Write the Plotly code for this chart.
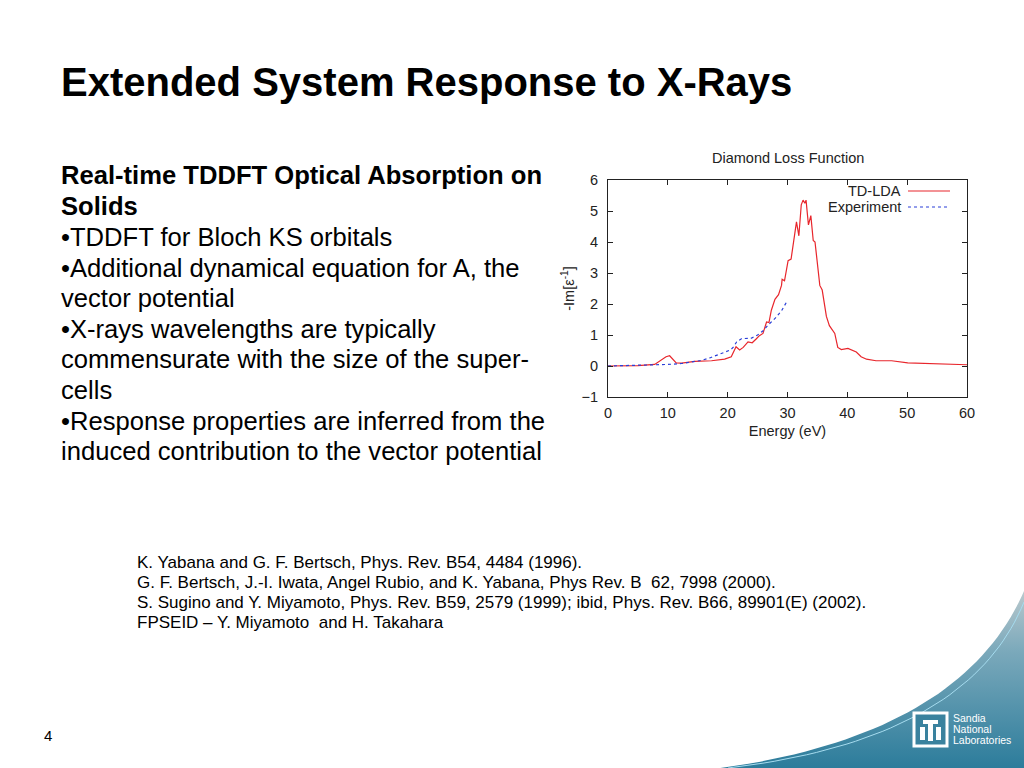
import plotly.graph_objects as go

# TD-LDA loss function
lda_e = [0, 5, 7.8, 8.9, 9.7, 10.3, 10.9, 11.4, 12.3, 14.5, 17.3, 19.5, 20.6, 21.2, 21.4, 22.0,
         22.6, 23.4, 24.1, 24.8, 25.3, 25.9, 26.5, 26.9, 27.3, 27.9, 28.5, 29.0, 29.1, 29.5,
         30.1, 30.6, 31.5, 31.9, 32.3, 32.6, 32.9, 33.1, 33.5, 33.9, 34.3, 34.6, 35.4, 35.8,
         36.5, 37.0, 37.9, 38.4, 39.0, 40.1, 41.5, 42.3, 43.2, 44.8, 47.4, 50.1, 55.2, 60]
lda_y = [0, 0.01, 0.05, 0.18, 0.30, 0.33, 0.22, 0.10, 0.09, 0.15, 0.17, 0.22, 0.30, 0.55, 0.62, 0.52,
         0.60, 0.78, 0.75, 0.88, 0.98, 1.05, 1.42, 1.40, 1.80, 2.15, 2.30, 2.60, 2.80, 2.75,
         3.40, 3.45, 4.65, 4.20, 5.20, 5.35, 5.25, 5.35, 4.55, 4.85, 4.05, 4.00, 2.60, 2.45,
         1.60, 1.30, 1.05, 0.60, 0.53, 0.57, 0.45, 0.30, 0.22, 0.17, 0.17, 0.10, 0.07, 0.04]

# experiment
exp_e = [0, 5, 8, 10, 12.3, 14, 15.6, 17, 18.9, 20, 20.5, 21, 21.5, 22.3, 23, 24, 25, 26, 26.7, 28, 29, 29.8]
exp_y = [0, 0.02, 0.04, 0.05, 0.08, 0.14, 0.18, 0.26, 0.40, 0.47, 0.52, 0.62, 0.78, 0.88, 0.88, 0.90,
         1.00, 1.15, 1.31, 1.55, 1.78, 2.05]

title = "Extended System Response to X-Rays"
heading = ["Real-time TDDFT Optical Absorption on", "Solids"]
bullets = ["•TDDFT for Bloch KS orbitals",
           "•Additional dynamical equation for A, the",
           "vector potential",
           "•X-rays wavelengths are typically",
           "commensurate with the size of the super-",
           "cells",
           "•Response properties are inferred from the",
           "induced contribution to the vector potential"]
refs = ["K. Yabana and G. F. Bertsch, Phys. Rev. B54, 4484 (1996).",
        "G. F. Bertsch, J.-I. Iwata, Angel Rubio, and K. Yabana, Phys Rev. B  62, 7998 (2000).",
        "S. Sugino and Y. Miyamoto, Phys. Rev. B59, 2579 (1999); ibid, Phys. Rev. B66, 89901(E) (2002).",
        "FPSEID – Y. Miyamoto  and H. Takahara"]
logo_lines = ['Sandia', 'National', 'Laboratories']

W, H = 1024, 768
def px(x, y):
    return x / W, 1 - y / H

SANS = 'Liberation Sans, Arial'
RED, BLUE = '#e8262c', '#2a3fd8'

fig = go.Figure()

# teal swoosh (page decoration), drawn on a hidden full-page axis pair
P0, P1, P2 = (712, 768), (962, 736), (1024, 588)
def bez(p0, p1, p2, n=40):
    xs, ys = [], []
    for i in range(n + 1):
        t = i / n
        xs.append((1 - t) ** 2 * p0[0] + 2 * t * (1 - t) * p1[0] + t * t * p2[0])
        ys.append((1 - t) ** 2 * p0[1] + 2 * t * (1 - t) * p1[1] + t * t * p2[1])
    return xs, ys
sx, sy = bez(P0, P1, P2)
fig.add_trace(go.Scatter(x=sx + [1024, P0[0]], y=sy + [768, 768], xaxis='x2', yaxis='y2',
                         mode='lines', fill='toself', line=dict(width=0), hoverinfo='skip',
                         fillgradient=dict(type='vertical', start=588, stop=768,
                                           colorscale=[[0, '#bccace'], [0.35, '#7ba9bb'],
                                                       [1, '#2c7c9b']])))
fig.add_trace(go.Scatter(x=sx, y=sy, xaxis='x2', yaxis='y2', mode='lines', hoverinfo='skip',
                         line=dict(color='white', width=2.5)))
sx2, sy2 = bez((728, 768), (968, 740), (1024, 602))
fig.add_trace(go.Scatter(x=sx2, y=sy2, xaxis='x2', yaxis='y2', mode='lines', hoverinfo='skip',
                         line=dict(color='#a6dcef', width=1)))

fig.add_trace(go.Scatter(x=lda_e, y=lda_y, mode='lines', name='TD-LDA',
                         line=dict(color=RED, width=1.2)))
fig.add_trace(go.Scatter(x=exp_e, y=exp_y, mode='lines', name='Experiment',
                         line=dict(color=BLUE, width=1.2, dash='dot')))

x0, y0 = px(608, 397)
x1, y1 = px(967, 180)
axis_font = dict(family=SANS, size=14.5, color='#222')
fig.update_layout(
    xaxis=dict(domain=[x0, x1], range=[0, 60], dtick=10, showgrid=False, zeroline=False,
               showline=True, linecolor='#222', linewidth=1, mirror='allticks',
               ticks='inside', ticklen=5, tickcolor='#222', tickfont=axis_font,
               ticklabelstandoff=3, automargin=False,
               title=dict(text='Energy (eV)', font=axis_font, standoff=5)),
    yaxis=dict(domain=[y0, y1], range=[-1, 6], dtick=1, showgrid=False, zeroline=False,
               showline=True, linecolor='#222', linewidth=1, mirror='allticks',
               ticks='inside', ticklen=5, tickcolor='#222', tickfont=axis_font,
               ticklabelstandoff=6, automargin=False,
               title=dict(text='-Im[ε<sup>-1</sup>]', font=axis_font, standoff=3)),
    xaxis2=dict(domain=[0, 1], range=[0, W], visible=False, anchor='y2', fixedrange=True),
    yaxis2=dict(domain=[0, 1], range=[H, 0], visible=False, anchor='x2', fixedrange=True),
)

ann = []
def text(x, y, s, size, bold=False, color='black', family=SANS, anchor='left'):
    ax, ay = px(x, y)
    ann.append(dict(x=ax, y=ay, xref='paper', yref='paper', xanchor=anchor, yanchor='middle',
                    text='<b>%s</b>' % s if bold else s, showarrow=False, borderpad=0,
                    font=dict(family=family, size=size, color=color)))

text(60, 82, title, 40, bold=True)
for i, s in enumerate(heading):
    text(60, 175 + 30.6 * i, s, 25.6, bold=True)
for i, s in enumerate(bullets):
    text(60, 237 + 30.6 * i, s, 25.6)
for i, s in enumerate(refs):
    text(136, 562 + 20.3 * i, s, 17)
text(43, 735, '4', 15)

# chart title and legend (gnuplot style: key text left of the sample)
text(788, 158, 'Diamond Loss Function', 14.5, color='#222', anchor='center')
text(902, 191, 'TD-LDA', 14.5, color='#222', anchor='right')
text(902, 207, 'Experiment', 14.5, color='#222', anchor='right')

shapes = []
lx0, ly = px(908, 191)
lx1, _ = px(950, 191)
shapes.append(dict(type='line', xref='paper', yref='paper', x0=lx0, x1=lx1, y0=ly, y1=ly,
                   line=dict(color=RED, width=1.2)))
_, ly = px(908, 207)
shapes.append(dict(type='line', xref='paper', yref='paper', x0=lx0, x1=lx1, y0=ly, y1=ly,
                   line=dict(color=BLUE, width=1.2, dash='dot')))

# Sandia logo
bx0, by0 = px(914, 713)
bx1, by1 = px(947, 746)
shapes.append(dict(type='rect', xref='paper', yref='paper', layer='above',
                   x0=bx0, x1=bx1, y0=by1, y1=by0, fillcolor='#3a829e',
                   line=dict(color='white', width=3)))
for r in [(923, 720, 938, 724), (928, 724, 933, 741), (920, 727, 925, 740), (936, 727, 941, 740)]:
    a, b = px(r[0], r[1])
    c, d = px(r[2], r[3])
    shapes.append(dict(type='rect', xref='paper', yref='paper', layer='above',
                       x0=a, x1=c, y0=d, y1=b, fillcolor='white', line=dict(width=0)))
for i, s in enumerate(logo_lines):
    text(952, 718 + 11 * i, s, 10.5, color='white')

fig.update_layout(width=W, height=H, margin=dict(l=0, r=0, t=0, b=0),
                  paper_bgcolor='white', plot_bgcolor='rgba(0,0,0,0)', showlegend=False,
                  annotations=ann, shapes=shapes)
fig.write_html("out.html", config=dict(displayModeBar=False),
               post_script="document.body.style.margin='0';")
